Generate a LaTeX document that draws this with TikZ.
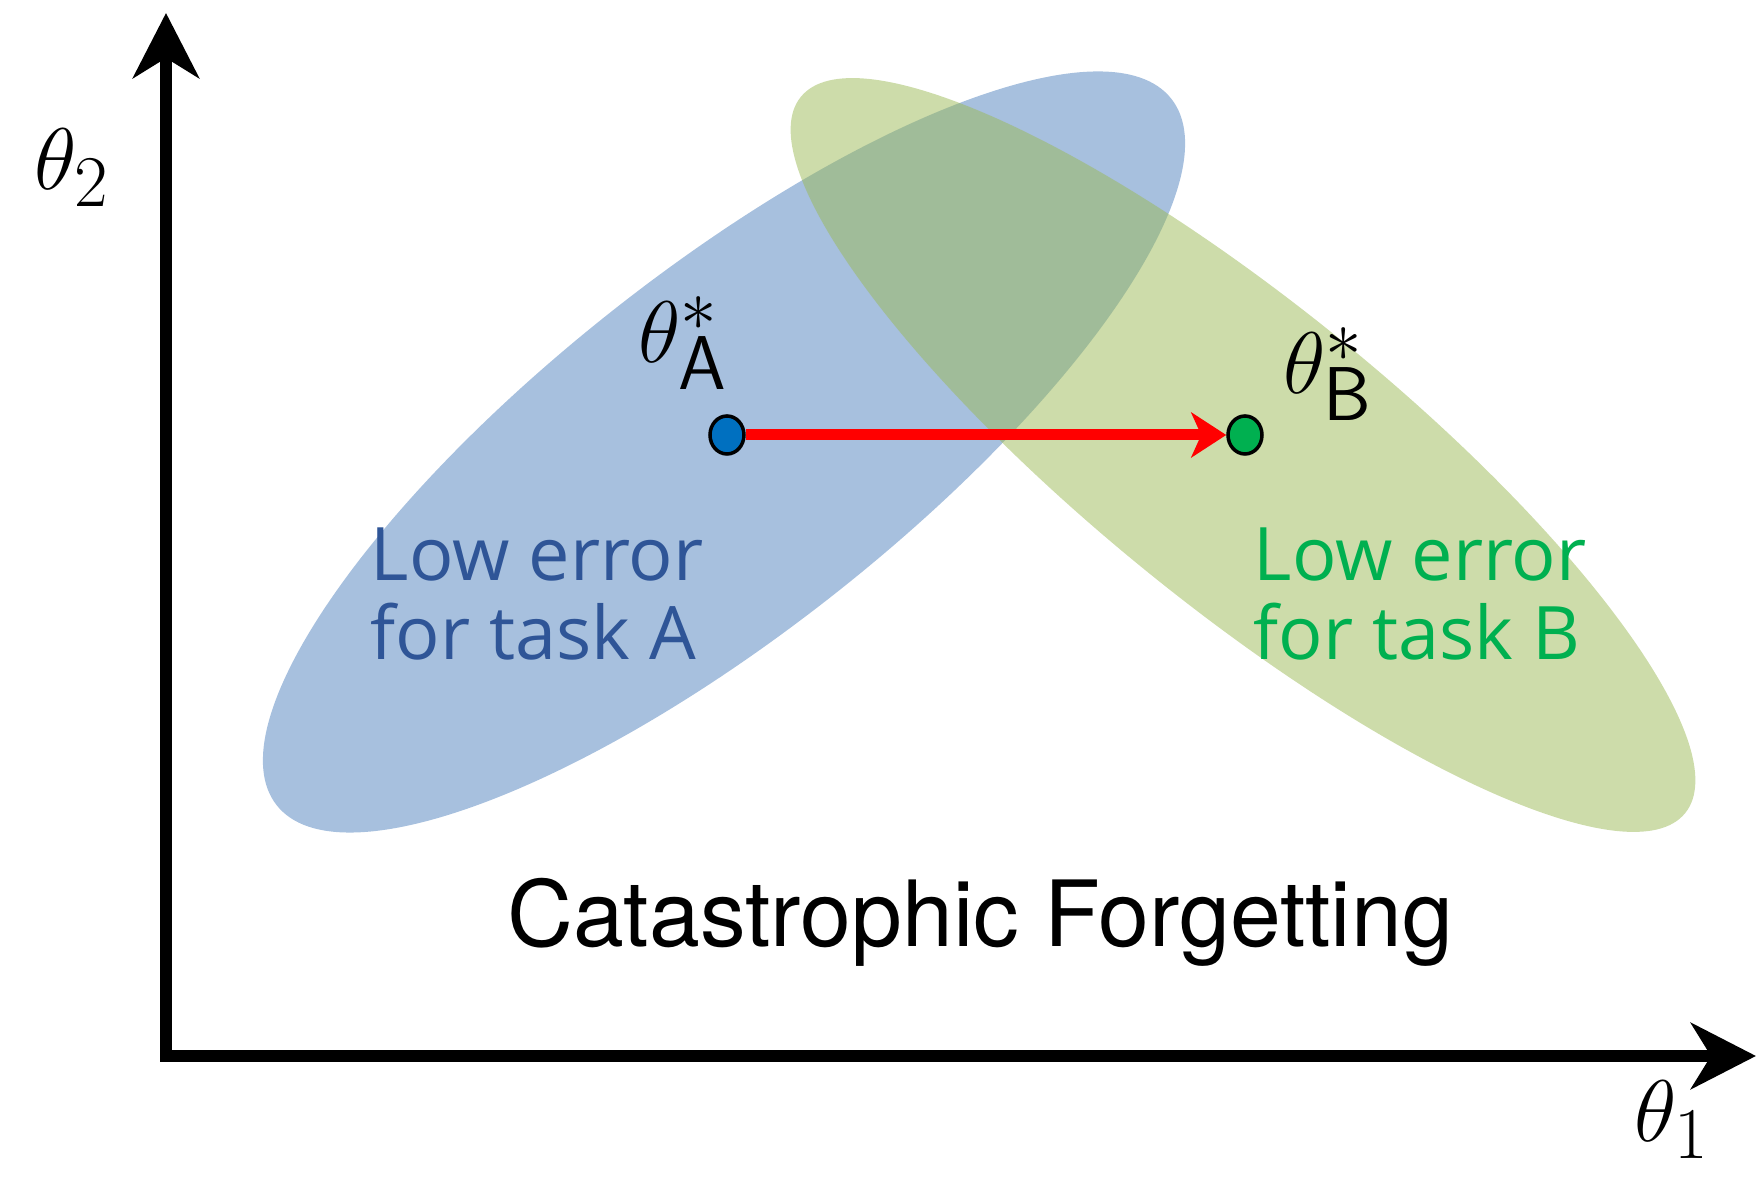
\documentclass[tikz,border=0pt]{standalone}
\usepackage{fontspec}
\newfontfamily\handfont{Open Sans}
\newfontfamily\headfont{TeX Gyre Heros}
\usetikzlibrary{arrows.meta,shapes.geometric}
\definecolor{blueregion}{RGB}{167,192,222}
\definecolor{greenregion}{RGB}{155,185,85}
\definecolor{bluetext}{RGB}{47,85,151}
\definecolor{greentext}{RGB}{0,176,80}
\definecolor{dotblue}{RGB}{0,112,192}
\definecolor{dotgreen}{RGB}{0,176,80}

\begin{document}
\begin{tikzpicture}[x=0.1mm, y=0.1mm,
        axis/.style={line width=1.2mm, {Stealth[length=6.5mm, width=6.6mm, inset=2mm]}-{Stealth[length=6.5mm, width=6.6mm, inset=2mm]}},
        optimum/.style={ellipse, draw, line width=1pt, inner sep=0pt, minimum width=3.4mm, minimum height=3.8mm},
        param/.style={font=\fontsize{31}{34}\selectfont},
        region/.style={font=\handfont\fontsize{21}{22.4}\selectfont, align=left, anchor=north west, inner sep=0pt}]
        \useasboundingbox (0,0) rectangle (1758,1188);

        \fill[blueregion, rotate around={38.3:(724,736)}] (724,736) ellipse [x radius=570, y radius=180];
        \fill[greenregion, opacity=0.5, rotate around={-39:(1243,733)}] (1243,733) ellipse [x radius=569, y radius=151];

        \coordinate (origin) at (166,132);
        \coordinate (ytip) at (166,1175);
        \coordinate (xtip) at (1756,132);
        \draw[axis, line join=miter] (ytip) -- (origin) -- (xtip);
        \node[param] (t2) at (72,1020) {$\theta_2$};
        \node[param] (t1) at (1672,68) {$\theta_1$};

        \node[optimum, fill=dotblue] (thA) at (727,753) {};
        \node[optimum, fill=dotgreen] (thB) at (1245,753) {};
        \draw[red, line width=1.1mm, -{Stealth[length=3.5mm, width=4.5mm, inset=1mm]}] (thA) -- (thB);
        \node[param] (labA) at (683,845) {$\theta^{*}_{\mathsf{A}}$};
        \node[param] (labB) at (1328,814) {$\theta^{*}_{\mathsf{B}}$};

        \node[region, text=bluetext] (lowA) at (370,661) {Low error\\for task A};
        \node[region, text=greentext] (lowB) at (1253,661) {Low error\\for task B};

        \node[font=\headfont\fontsize{26}{30}\selectfont, anchor=base] (title) at (980,241) {Catastrophic Forgetting};
    \end{tikzpicture}
\end{document}
